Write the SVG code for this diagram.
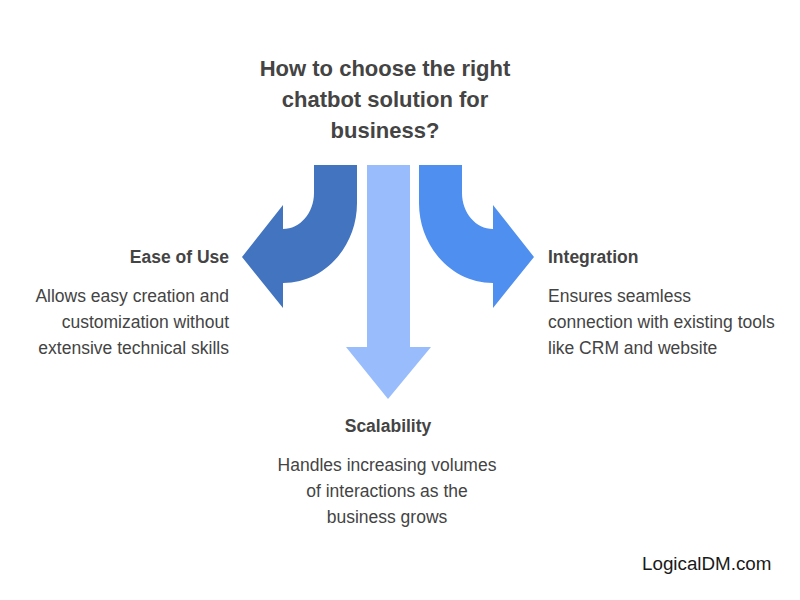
<svg xmlns="http://www.w3.org/2000/svg" width="800" height="600" viewBox="0 0 800 600">
<style>
text{font-family:"Liberation Sans",Arial,sans-serif;fill:#444}
.t{font-size:22px;font-weight:bold;text-anchor:middle}
.h{font-size:17.5px;font-weight:bold}
.d{font-size:17.5px}
.r{text-anchor:end}
.m{text-anchor:middle}
</style>
<rect width="800" height="600" fill="#fff"/>
<g id="title"><text class="t" x="385" y="76">How to choose the right</text><text class="t" x="385" y="107">chatbot solution for</text><text class="t" x="385" y="138">business?</text></g>
<g id="connectors">
<path id="arrow-left" fill="#4374bf" d="M314,165 L357,165 L357,203 C357,247 324,283 283,283 L283,308 L242,257 L283,205 L283,229 C300,229 314,213 314,193 Z"/>
<path id="arrow-right" fill="#4f8fef" d="M462,165 L419,165 L419,203 C419,247 452,283 493,283 L493,308 L534,257 L493,205 L493,229 C476,229 462,213 462,193 Z"/>
<path id="arrow-down" fill="#99bdfc" d="M367,165 L410,165 L410,347 L431,347 L388,399 L346,347 L367,347 Z"/>
</g>
<g id="ease"><text class="h r" x="229" y="263">Ease of Use</text><text class="d r" x="229" y="302">Allows easy creation and</text><text class="d r" x="229" y="328">customization without</text><text class="d r" x="229" y="354">extensive technical skills</text></g>
<g id="integration"><text class="h" x="548" y="263">Integration</text><text class="d" x="548" y="302">Ensures seamless</text><text class="d" x="548" y="328">connection with existing tools</text><text class="d" x="548" y="354">like CRM and website</text></g>
<g id="scalability"><text class="h m" x="388" y="432">Scalability</text><text class="d m" x="387" y="471">Handles increasing volumes</text><text class="d m" x="387" y="497">of interactions as the</text><text class="d m" x="387" y="523">business grows</text></g>
<g id="brand"><text x="642" y="570" style="fill:#1a1a1a;font-size:18.8px">LogicalDM.com</text></g>
</svg>
